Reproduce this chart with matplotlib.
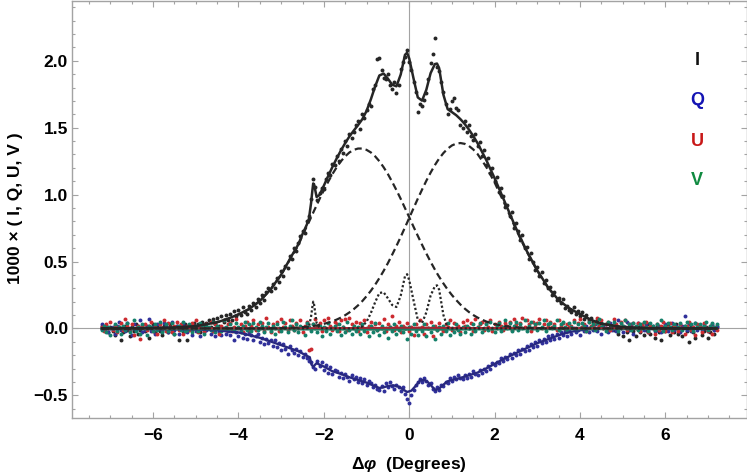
import numpy as np
import matplotlib
matplotlib.use("Agg")
import matplotlib.pyplot as plt
from matplotlib.ticker import MultipleLocator, FuncFormatter

plt.rcParams['font.family'] = ['Liberation Sans', 'DejaVu Sans']
plt.rcParams['font.weight'] = 'bold'
plt.rcParams['mathtext.fontset'] = 'custom'
plt.rcParams['mathtext.rm'] = 'Liberation Sans:bold'
plt.rcParams['mathtext.it'] = 'Liberation Sans:italic:bold'
plt.rcParams['mathtext.bf'] = 'Liberation Sans:bold'

# ---------------- data ----------------
# sample positions of the measured points (evenly spaced in delta-phi)
X_START = -7.2
X_STEP = 0.05

I_DOTS = [
    0.02, -0.01, 0.00, -0.03, 0.01, -0.02, -0.05, 0.00, 0.01, -0.09,
    -0.03, 0.02, -0.01, -0.06, 0.01, -0.02, 0.03, -0.04, -0.01, 0.02,
    -0.02, 0.01, -0.07, 0.00, 0.03, -0.03, 0.01, -0.02, -0.05, 0.02,
    0.01, -0.03, 0.03, -0.01, -0.04, 0.02, -0.09, 0.00, -0.02, 0.03,
    -0.09, 0.02, -0.01, 0.04, 0.00, 0.03, -0.03, 0.05, 0.01, 0.04,
    0.06, 0.01, 0.07, 0.03, 0.08, 0.02, 0.09, 0.05, 0.10, 0.06,
    0.11, 0.06, 0.13, 0.09, 0.14, 0.10, 0.16, 0.12, 0.11, 0.17,
    0.14, 0.19, 0.16, 0.22, 0.19, 0.25, 0.21, 0.27, 0.30, 0.28,
    0.33, 0.30, 0.38, 0.35, 0.43, 0.39, 0.47, 0.45, 0.54, 0.52,
    0.60, 0.58, 0.64, 0.69, 0.73, 0.71, 0.80, 0.84, 0.97, 1.12,
    1.06, 0.96, 1.01, 1.05, 1.04, 1.12, 1.16, 1.15, 1.23, 1.22,
    1.29, 1.25, 1.34, 1.31, 1.40, 1.36, 1.45, 1.42, 1.47, 1.52,
    1.55, 1.49, 1.60, 1.57, 1.63, 1.68, 1.66, 1.79, 1.82, 2.01,
    2.02, 1.93, 1.87, 1.86, 1.90, 1.82, 1.79, 1.84, 1.76, 1.82,
    1.94, 1.99, 2.03, 2.08, 1.99, 1.93, 1.84, 1.77, 1.62, 1.68,
    1.66, 1.71, 1.76, 1.86, 1.98, 2.05, 2.17, 1.95, 1.92, 1.84,
    1.77, 1.68, 1.60, 1.64, 1.70, 1.72, 1.65, 1.63, 1.52, 1.50,
    1.55, 1.47, 1.52, 1.44, 1.41, 1.45, 1.36, 1.39, 1.29, 1.33,
    1.22, 1.27, 1.16, 1.20, 1.10, 1.13, 1.02, 1.05, 0.99, 0.91,
    0.92, 0.84, 0.87, 0.75, 0.79, 0.73, 0.66, 0.70, 0.60, 0.61,
    0.52, 0.56, 0.50, 0.44, 0.46, 0.39, 0.42, 0.34, 0.36, 0.30,
    0.31, 0.25, 0.27, 0.21, 0.23, 0.19, 0.22, 0.15, 0.17, 0.14,
    0.12, 0.16, 0.11, 0.13, 0.09, 0.12, 0.07, 0.10, 0.06, 0.08,
    0.05, 0.03, 0.06, 0.02, 0.04, 0.00, 0.03, -0.02, 0.01, 0.02,
    -0.01, 0.02, -0.04, 0.00, -0.06, 0.01, -0.03, -0.09, 0.00, -0.02,
    -0.06, 0.01, -0.03, 0.02, -0.05, -0.01, 0.03, -0.04, 0.00, -0.07,
    0.01, -0.03, -0.09, 0.00, -0.02, 0.02, -0.05, 0.01, -0.03, 0.03,
    -0.04, 0.00, -0.06, 0.02, -0.02, -0.10, 0.01, -0.03, -0.07, 0.00,
    0.02, -0.05, -0.02, 0.01, -0.07, -0.03, 0.00, -0.04, 0.01,
]

Q_DOTS = [
    0.03, -0.01, 0.02, -0.03, 0.00, 0.01, -0.04, 0.02, 0.05, -0.01,
    0.01, -0.02, 0.04, 0.00, -0.05, 0.03, -0.01, 0.02, 0.06, -0.03,
    -0.01, 0.02, 0.07, -0.02, 0.01, -0.04, 0.03, 0.00, -0.02, 0.04,
    0.02, -0.03, 0.00, 0.05, -0.01, 0.02, -0.04, 0.01, 0.03, -0.02,
    -0.03, 0.01, -0.05, 0.02, -0.02, 0.00, -0.06, 0.01, -0.03, -0.01,
    0.00, -0.04, -0.02, -0.06, 0.01, -0.03, -0.05, 0.00, -0.04, -0.02,
    -0.05, -0.01, -0.09, -0.03, -0.06, -0.02, -0.07, -0.04, -0.08, -0.03,
    -0.05, -0.09, -0.06, -0.04, -0.10, -0.07, -0.12, -0.08, -0.11, -0.09,
    -0.13, -0.09, -0.14, -0.11, -0.16, -0.12, -0.15, -0.19, -0.13, -0.16,
    -0.18, -0.15, -0.20, -0.17, -0.21, -0.19, -0.22, -0.24, -0.25, -0.29,
    -0.30, -0.24, -0.28, -0.25, -0.31, -0.27, -0.33, -0.29, -0.34, -0.31,
    -0.32, -0.36, -0.33, -0.37, -0.34, -0.36, -0.39, -0.35, -0.38, -0.36,
    -0.40, -0.37, -0.41, -0.38, -0.42, -0.39, -0.41, -0.44, -0.42, -0.45,
    -0.46, -0.43, -0.47, -0.41, -0.44, -0.40, -0.43, -0.45, -0.42, -0.44,
    -0.47, -0.44, -0.49, -0.53, -0.56, -0.50, -0.46, -0.42, -0.40, -0.38,
    -0.40, -0.37, -0.39, -0.42, -0.41, -0.45, -0.47, -0.44, -0.46, -0.42,
    -0.43, -0.40, -0.41, -0.37, -0.39, -0.36, -0.38, -0.35, -0.37, -0.38,
    -0.35, -0.37, -0.34, -0.36, -0.32, -0.34, -0.35, -0.31, -0.33, -0.30,
    -0.32, -0.28, -0.30, -0.26, -0.27, -0.25, -0.26, -0.22, -0.24, -0.21,
    -0.23, -0.19, -0.22, -0.18, -0.20, -0.16, -0.19, -0.15, -0.17, -0.13,
    -0.16, -0.12, -0.14, -0.10, -0.13, -0.09, -0.11, -0.08, -0.10, -0.06,
    -0.09, -0.05, -0.08, -0.04, -0.07, -0.03, -0.05, -0.02, -0.06, -0.01,
    -0.04, 0.00, -0.03, -0.01, -0.05, 0.01, -0.02, 0.02, -0.03, 0.01,
    -0.01, 0.03, -0.02, 0.01, -0.04, 0.02, 0.00, -0.03, 0.04, -0.01,
    0.02, -0.02, 0.06, 0.00, -0.03, 0.01, 0.05, -0.01, 0.03, -0.04,
    0.01, 0.04, -0.02, 0.02, -0.01, 0.03, -0.03, 0.00, 0.02, -0.02,
    -0.01, 0.02, -0.03, 0.01, 0.03, -0.02, 0.00, 0.04, -0.01, 0.02,
    0.00, -0.03, 0.02, 0.09, -0.01, 0.03, -0.02, 0.01, 0.04, -0.01,
    0.02, -0.01, 0.03, 0.00, -0.02, 0.01, 0.03, -0.01, 0.02,
]

U_DOTS = [
    0.01, -0.02, 0.03, 0.00, 0.05, -0.01, 0.02, -0.03, 0.01, 0.04,
    -0.01, 0.07, 0.02, -0.02, 0.03, -0.05, 0.00, 0.02, -0.08, 0.01,
    0.03, -0.01, 0.02, 0.05, -0.02, 0.01, -0.04, 0.03, 0.00, 0.06,
    -0.02, 0.04, 0.01, -0.03, 0.02, 0.05, -0.01, 0.03, -0.04, 0.01,
    0.02, -0.01, 0.04, 0.00, 0.06, -0.03, 0.02, 0.01, -0.02, 0.03,
    0.00, 0.05, -0.02, 0.03, 0.01, -0.04, 0.02, 0.06, -0.01, 0.03,
    0.04, -0.02, 0.01, 0.07, 0.00, 0.03, -0.03, 0.02, 0.05, -0.01,
    0.02, 0.06, -0.01, 0.03, 0.00, 0.04, -0.02, 0.08, 0.01, -0.03,
    0.03, 0.00, 0.05, -0.02, 0.07, 0.01, 0.04, -0.01, 0.06, 0.02,
    -0.01, 0.04, 0.00, 0.06, -0.03, 0.02, 0.05, -0.16, -0.15, 0.03,
    0.07, 0.01, 0.04, -0.02, 0.06, 0.00, 0.08, 0.02, -0.01, 0.05,
    0.03, -0.02, 0.06, 0.01, 0.07, -0.01, 0.08, 0.03, 0.00, 0.05,
    -0.02, 0.04, 0.01, 0.06, -0.03, 0.02, 0.05, 0.00, 0.03, -0.01,
    0.04, 0.00, 0.07, -0.02, 0.03, 0.01, 0.09, -0.01, 0.02, 0.05,
    -0.03, 0.02, 0.00, 0.04, -0.02, 0.01, -0.05, 0.03, 0.00, 0.06,
    0.01, -0.04, 0.03, 0.00, 0.05, -0.06, 0.02, -0.01, 0.04, 0.00,
    -0.02, 0.03, 0.01, 0.06, -0.01, 0.04, 0.00, 0.02, -0.03, 0.05,
    0.02, 0.06, 0.00, 0.04, -0.02, 0.07, 0.01, 0.03, 0.05, -0.01,
    0.04, 0.01, 0.06, -0.02, 0.03, 0.00, 0.05, 0.02, -0.01, 0.04,
    0.02, 0.05, -0.01, 0.07, 0.03, 0.00, 0.04, 0.08, 0.01, 0.06,
    0.03, -0.02, 0.05, 0.01, 0.04, 0.07, 0.00, 0.03, 0.06, 0.02,
    0.05, 0.01, 0.03, -0.01, 0.06, 0.02, 0.04, 0.00, 0.03, 0.01,
    0.02, 0.06, 0.00, 0.04, 0.07, 0.01, 0.03, -0.02, 0.05, 0.02,
    0.01, 0.04, 0.08, 0.02, 0.06, 0.00, 0.03, 0.05, -0.01, 0.02,
    0.07, 0.03, 0.00, 0.05, 0.02, 0.06, -0.01, 0.03, 0.01, 0.04,
    0.00, 0.04, -0.02, 0.03, 0.01, 0.05, -0.03, 0.02, 0.00, -0.04,
    0.03, -0.01, 0.02, 0.05, -0.02, 0.01, 0.04, -0.03, 0.02, 0.00,
    -0.02, 0.03, 0.00, -0.04, 0.02, 0.05, -0.01, 0.01, -0.05, 0.03,
    0.01, -0.03, 0.04, 0.00, -0.02, 0.02, -0.04, 0.01, -0.01,
]

V_DOTS = [
    -0.01, 0.02, -0.03, 0.01, -0.05, 0.00, 0.03, -0.02, 0.01, -0.04,
    0.02, -0.01, 0.04, -0.03, 0.00, 0.06, -0.02, 0.01, -0.04, 0.03,
    0.00, -0.05, 0.02, 0.01, -0.02, 0.03, -0.01, 0.05, -0.03, 0.00,
    0.03, -0.02, 0.00, 0.04, -0.04, 0.01, 0.02, -0.01, 0.05, -0.02,
    -0.01, 0.03, -0.03, 0.00, 0.02, -0.02, 0.04, 0.01, -0.04, 0.02,
    0.01, -0.01, 0.05, -0.03, 0.02, 0.00, -0.02, 0.06, 0.01, -0.01,
    0.03, 0.00, -0.02, 0.04, 0.01, -0.03, 0.02, 0.05, -0.01, 0.03,
    -0.02, 0.04, 0.01, -0.01, 0.05, 0.02, -0.03, 0.01, 0.04, -0.02,
    0.02, -0.04, 0.03, 0.00, -0.02, 0.05, 0.01, -0.03, 0.02, 0.06,
    -0.01, 0.03, -0.03, 0.02, 0.00, -0.05, 0.04, 0.01, -0.02, 0.03,
    0.00, -0.03, 0.02, -0.06, 0.01, -0.02, 0.04, -0.04, 0.00, 0.02,
    -0.02, 0.03, -0.05, 0.01, -0.03, 0.05, -0.01, -0.04, 0.02, -0.02,
    0.01, -0.04, 0.03, -0.02, 0.00, -0.06, 0.02, -0.03, 0.04, -0.01,
    -0.05, 0.02, -0.03, 0.00, -0.07, 0.01, -0.02, 0.03, -0.04, -0.01,
    0.02, -0.03, 0.00, -0.08, 0.01, -0.04, 0.03, -0.02, -0.05, 0.00,
    -0.02, 0.03, -0.06, 0.00, -0.03, 0.02, -0.08, -0.01, 0.01, -0.04,
    0.02, -0.02, 0.04, -0.05, 0.00, -0.03, 0.03, -0.01, -0.04, 0.01,
    -0.03, 0.02, 0.00, -0.04, 0.03, -0.02, 0.01, 0.04, -0.03, 0.00,
    0.03, -0.01, 0.05, 0.00, -0.03, 0.02, 0.04, -0.02, 0.01, 0.06,
    0.00, 0.04, -0.02, 0.02, 0.05, -0.01, 0.03, 0.00, 0.06, -0.02,
    0.02, 0.05, 0.00, 0.03, -0.01, 0.04, 0.01, 0.06, -0.02, 0.03,
    0.04, 0.00, 0.02, 0.06, -0.01, 0.03, 0.05, 0.01, -0.02, 0.04,
    0.01, 0.05, -0.01, 0.03, 0.00, 0.04, 0.02, -0.02, 0.05, 0.01,
    0.03, -0.01, 0.04, 0.07, 0.01, 0.03, -0.02, 0.05, 0.00, 0.02,
    0.05, 0.01, -0.02, 0.04, 0.02, 0.06, 0.00, 0.03, -0.01, 0.04,
    0.02, -0.01, 0.03, 0.00, 0.05, 0.01, -0.02, 0.04, 0.02, -0.01,
    0.03, 0.00, 0.06, -0.02, 0.02, 0.04, 0.01, -0.01, 0.03, 0.00,
    0.01, 0.04, -0.01, 0.02, 0.05, 0.00, 0.03, -0.02, 0.04, 0.01,
    0.03, 0.00, 0.02, 0.05, -0.01, 0.02, 0.04, 0.01, 0.03,
]

# fitted model for I: two broad components, narrow components, total
FIT_X = [
    -7.2, -6.5, -6.0, -5.5, -5.0, -4.5, -4.25, -4.0, -3.75, -3.5,
    -3.25, -3.0, -2.75, -2.6, -2.5, -2.4, -2.35, -2.3, -2.27, -2.25,
    -2.23, -2.2, -2.17, -2.1, -2.0, -1.9, -1.8, -1.7, -1.6, -1.5,
    -1.4, -1.3, -1.2, -1.1, -1.0, -0.9, -0.8, -0.7, -0.6, -0.5,
    -0.4, -0.3, -0.2, -0.1, -0.05, 0.0, 0.1, 0.2, 0.3, 0.4,
    0.5, 0.6, 0.65, 0.7, 0.8, 0.9, 1.0, 1.1, 1.2, 1.3,
    1.4, 1.5, 1.6, 1.8, 2.0, 2.25, 2.5, 2.75, 3.0, 3.25,
    3.5, 3.75, 4.0, 4.25, 4.5, 5.0, 5.5, 6.0, 6.5, 7.2,
]
I_COMP_LEFT = [
    0.0, 0.001, 0.003, 0.007, 0.017, 0.046, 0.072, 0.105, 0.145, 0.205,
    0.29, 0.40, 0.54, 0.62, 0.695, 0.762, 0.795, 0.830, 0.851, 0.865,
    0.879, 0.899, 0.920, 0.968, 1.033, 1.095, 1.153, 1.204, 1.249, 1.286,
    1.315, 1.334, 1.344, 1.344, 1.334, 1.315, 1.286, 1.249, 1.204, 1.153,
    1.095, 1.033, 0.968, 0.899, 0.865, 0.830, 0.760, 0.692, 0.625, 0.560,
    0.498, 0.440, 0.412, 0.386, 0.336, 0.290, 0.249, 0.212, 0.178, 0.148,
    0.122, 0.100, 0.081, 0.052, 0.032, 0.017, 0.009, 0.005, 0.003, 0.002,
    0.001, 0.0, 0.0, 0.0, 0.0, 0.0, 0.0, 0.0, 0.0, 0.0,
]
I_COMP_RIGHT = [
    0.0, 0.0, 0.0, 0.0, 0.0, 0.0, 0.0, 0.0, 0.0, 0.0,
    0.001, 0.002, 0.005, 0.007, 0.010, 0.013, 0.014, 0.016, 0.018, 0.018,
    0.019, 0.021, 0.022, 0.027, 0.034, 0.043, 0.053, 0.066, 0.081, 0.099,
    0.120, 0.144, 0.172, 0.204, 0.241, 0.281, 0.326, 0.376, 0.430, 0.488,
    0.551, 0.616, 0.684, 0.755, 0.790, 0.826, 0.898, 0.969, 1.037, 1.103,
    1.164, 1.220, 1.245, 1.269, 1.310, 1.343, 1.367, 1.381, 1.385, 1.379,
    1.363, 1.337, 1.303, 1.209, 1.090, 0.919, 0.740, 0.575, 0.430, 0.305,
    0.21, 0.15, 0.107, 0.065, 0.035, 0.010, 0.003, 0.001, 0.0, 0.0,
]
I_NARROW = [
    0.0, 0.0, 0.0, 0.0, 0.0, 0.0, 0.0, 0.0, 0.0, 0.0,
    0.0, 0.0, 0.0, 0.0, 0.0, 0.0, 0.01, 0.09, 0.16, 0.20,
    0.18, 0.11, 0.04, 0.003, 0.0, 0.0, 0.0, 0.0, 0.0, 0.0,
    0.0, 0.0, 0.003, 0.015, 0.05, 0.115, 0.195, 0.265, 0.27, 0.225,
    0.175, 0.16, 0.245, 0.39, 0.405, 0.36, 0.21, 0.065, 0.04, 0.12,
    0.245, 0.315, 0.322, 0.29, 0.10, 0.005, 0.0, 0.0, 0.0, 0.0,
    0.0, 0.0, 0.0, 0.0, 0.0, 0.0, 0.0, 0.0, 0.0, 0.0,
    0.0, 0.0, 0.0, 0.0, 0.0, 0.0, 0.0, 0.0, 0.0, 0.0,
]
I_TOTAL = [
    0.0, 0.001, 0.003, 0.007, 0.017, 0.046, 0.072, 0.105, 0.145, 0.205,
    0.291, 0.402, 0.545, 0.627, 0.705, 0.775, 0.819, 0.936, 1.029, 1.083,
    1.078, 1.030, 0.982, 0.998, 1.067, 1.138, 1.206, 1.270, 1.330, 1.385,
    1.435, 1.478, 1.519, 1.563, 1.625, 1.711, 1.807, 1.890, 1.904, 1.866,
    1.821, 1.809, 1.897, 2.044, 2.060, 2.016, 1.868, 1.726, 1.702, 1.783,
    1.907, 1.975, 1.979, 1.945, 1.746, 1.638, 1.616, 1.593, 1.563, 1.527,
    1.485, 1.437, 1.384, 1.261, 1.122, 0.936, 0.749, 0.580, 0.433, 0.307,
    0.211, 0.150, 0.107, 0.065, 0.035, 0.010, 0.003, 0.001, 0.0, 0.0,
]

Q_FIT_X = [
    -7.2, -6.0, -5.0, -4.5, -4.0, -3.5, -3.0, -2.6, -2.4, -2.33,
    -2.29, -2.25, -2.17, -2.0, -1.8, -1.6, -1.4, -1.2, -1.0, -0.85,
    -0.7, -0.6, -0.5, -0.37, -0.25, -0.15, -0.05, 0.05, 0.15, 0.25,
    0.35, 0.45, 0.55, 0.62, 0.7, 0.8, 0.9, 1.0, 1.2, 1.4,
    1.6, 1.8, 2.0, 2.2, 2.5, 2.8, 3.0, 3.3, 3.6, 3.9,
    4.2, 4.6, 5.0, 6.0, 7.2,
]
Q_FIT = [
    -0.005, -0.005, -0.008, -0.015, -0.03, -0.07, -0.125, -0.17, -0.205, -0.215,
    -0.27, -0.285, -0.26, -0.285, -0.32, -0.34, -0.365, -0.385, -0.405, -0.425,
    -0.445, -0.44, -0.43, -0.425, -0.435, -0.455, -0.475, -0.465, -0.43, -0.39,
    -0.385, -0.405, -0.44, -0.46, -0.45, -0.42, -0.395, -0.385, -0.37, -0.35,
    -0.33, -0.30, -0.265, -0.23, -0.185, -0.14, -0.11, -0.075, -0.04, -0.018,
    -0.006, -0.002, 0.0, 0.0, 0.0,
]
UV_FIT_X = [-7.2, -3.0, 0.0, 3.0, 7.2]
U_FIT = [0.0, 0.001, 0.005, 0.002, 0.0]
V_FIT = [-0.003, -0.005, -0.007, -0.004, -0.002]

LEGEND_LABELS = ['I', 'Q', 'U', 'V']

# ---------------- styling ----------------
C_I = '#262626'
C_Q_DOT = '#30309a'
C_U_DOT = '#cc2a2f'
C_V_DOT = '#14806a'
C_Q_LINE = '#28287f'
C_U_LINE = '#a52330'
C_V_LINE = '#1f7a63'
LEGEND_COLORS = ['#111111', '#1414b4', '#c81818', '#0f8a40']
GRAY = '#a3a3a3'

W, H = 747, 475
fig = plt.figure(figsize=(W / 100, H / 100), dpi=100)
ax = fig.add_axes([72 / W, (H - 417.7) / H, (746.5 - 72) / W, 417.2 / H])


def xs(values):
    return X_START + X_STEP * np.arange(len(values))


ax.axhline(0, color=GRAY, lw=0.8, zorder=1)
ax.axvline(0, color=GRAY, lw=0.8, zorder=1)

ds = 8
ax.scatter(xs(I_DOTS), I_DOTS, s=ds, color=C_I, lw=0, zorder=2)
ax.scatter(xs(Q_DOTS), Q_DOTS, s=ds, color=C_Q_DOT, lw=0, zorder=2)
ax.scatter(xs(U_DOTS), U_DOTS, s=ds, color=C_U_DOT, lw=0, zorder=2)
ax.scatter(xs(V_DOTS), V_DOTS, s=ds, color=C_V_DOT, lw=0, zorder=2)

ax.plot(Q_FIT_X, Q_FIT, color=C_Q_LINE, lw=1.7, zorder=3)
ax.plot(UV_FIT_X, V_FIT, color=C_V_LINE, lw=2.0, zorder=3)
ax.plot(UV_FIT_X, U_FIT, color=C_U_LINE, lw=1.4, zorder=3)

ax.plot(FIT_X, I_COMP_LEFT, color=C_I, lw=1.6, ls=(0, (3.2, 1.8)), zorder=4)
ax.plot(FIT_X, I_COMP_RIGHT, color=C_I, lw=1.6, ls=(0, (3.2, 1.8)), zorder=4)
ax.plot(FIT_X, I_NARROW, color=C_I, lw=1.6, ls=(0, (1.0, 1.0)), zorder=4)
ax.plot(FIT_X, I_TOTAL, color=C_I, lw=1.8, zorder=5)

ax.set_xlim(-7.9, 7.9)
ax.set_ylim(-0.667, 2.45)

ax.xaxis.set_major_locator(MultipleLocator(2))
ax.xaxis.set_minor_locator(MultipleLocator(0.5))
ax.yaxis.set_major_locator(MultipleLocator(0.5))
ax.yaxis.set_minor_locator(MultipleLocator(0.1))
ax.xaxis.set_major_formatter(FuncFormatter(lambda v, p: ('%d' % round(v)).replace('-', '\u2212')))
ax.yaxis.set_major_formatter(FuncFormatter(lambda v, p: ('%.1f' % v).replace('-', '\u2212')))

ax.tick_params(which='both', direction='in', top=True, right=True,
               color=GRAY, width=0.8, labelsize=12.5)
ax.tick_params(which='major', length=4.2)
ax.tick_params(which='minor', length=2.2)
ax.tick_params(axis='x', which='major', pad=7.2)
ax.tick_params(axis='y', which='major', pad=2.8)
for lab in ax.get_xticklabels() + ax.get_yticklabels():
    lab.set_fontweight('bold')
for sp in ax.spines.values():
    sp.set_color(GRAY)
    sp.set_linewidth(1.0)

fig.text(409.3 / W, 1 - 465 / H, r'$\Delta\varphi$  (Degrees)', ha='center', va='center',
         fontsize=12.5, fontweight='bold')
fig.text(15.5 / W, 1 - 208.5 / H, '1000 \u00d7 ( I, Q, U, V )', ha='center', va='center',
         rotation=90, fontsize=12.5, fontweight='bold')

leg_y = [0.856, 0.761, 0.663, 0.569]
for lab, col, yy in zip(LEGEND_LABELS, LEGEND_COLORS, leg_y):
    ax.text(0.9266, yy, lab, color=col, transform=ax.transAxes, ha='center', va='center',
            fontsize=13, fontweight='bold')

fig.savefig('out.png', dpi=100)
